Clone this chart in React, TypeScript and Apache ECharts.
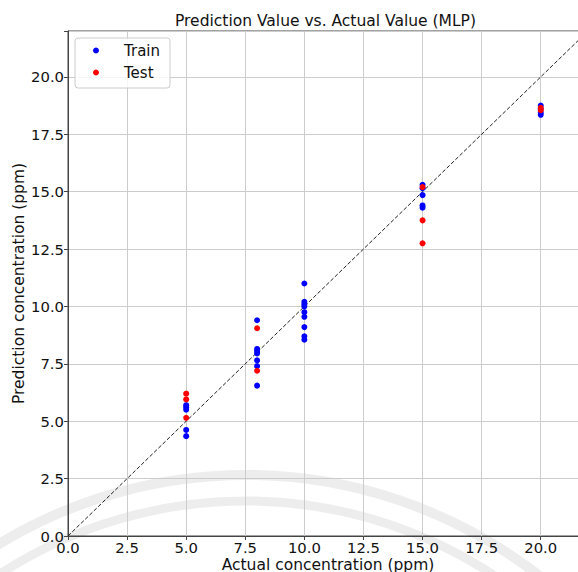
import React, { useEffect, useRef } from "react";
import * as echarts from "echarts";

const trainX = [5, 5, 5, 5, 5, 8, 8, 8, 8, 8, 8, 8, 10, 10, 10, 10, 10, 10, 10, 10, 10, 15, 15, 15, 15, 15, 20, 20, 20, 20];
const trainY = [5.7, 5.6, 5.5, 4.62, 4.35, 9.4, 8.15, 8.05, 7.95, 7.65, 7.4, 6.55, 11.0, 10.2, 10.1, 10.0, 9.75, 9.55, 9.1, 8.7, 8.55, 15.3, 15.15, 14.85, 14.4, 14.3, 18.75, 18.6, 18.45, 18.35];
const testX = [5, 5, 5, 8, 8, 15, 15, 15, 20, 20];
const testY = [6.2, 5.95, 5.15, 9.05, 7.2, 15.2, 13.75, 12.75, 18.65, 18.55];
const refLine = [0, 22];
const tickStep = 2.5;
const axisMax = 22;

const FONT = "DejaVu Sans";

export default function App() {
  const ref = useRef<HTMLDivElement>(null);
  useEffect(() => {
    if (!ref.current) return;
    const chart = echarts.init(ref.current, null, { renderer: "svg" });
    const fmt = (v: number) => {
      const k = v / tickStep;
      return Math.abs(k - Math.round(k)) < 1e-9 ? v.toFixed(1) : "";
    };
    const axisCommon = {
      type: "value",
      min: 0,
      max: axisMax,
      interval: tickStep,
      nameLocation: "middle",
      nameMoveOverlap: false,
      nameTextStyle: { fontFamily: FONT, fontSize: 15.5, color: "#111", lineHeight: 15 },
      axisLine: { show: true, onZero: false, lineStyle: { color: "#444", width: 1 } },
      axisTick: { show: true, length: 4, lineStyle: { color: "#444" } },
      axisLabel: { fontFamily: FONT, fontSize: 14.8, color: "#111", margin: 4, lineHeight: 14, formatter: fmt },
      splitLine: { show: true, lineStyle: { color: "#cccccc", width: 1 } },
    };
    chart.setOption({
      animation: false,
      backgroundColor: "#fff",
      title: {
        text: "Prediction Value vs. Actual Value (MLP)",
        left: 175,
        top: 13,
        padding: 0,
        textStyle: { fontFamily: FONT, fontSize: 15.5, fontWeight: "normal", color: "#111" },
      },
      grid: {
        left: 68,
        right: -10,
        top: 31,
        bottom: 36,
        outerBoundsMode: "none",
        containLabel: false,
        show: true,
        borderColor: "#444",
        borderWidth: 1,
      },
      legend: {
        orient: "vertical",
        left: 75,
        top: 38,
        padding: [4, 10, 7, 18],
        itemGap: 5,
        itemWidth: 6,
        itemHeight: 6,
        borderColor: "#cccccc",
        borderWidth: 1,
        borderRadius: 3,
        backgroundColor: "rgba(255,255,255,0.8)",
        textStyle: { fontFamily: FONT, fontSize: 15, color: "#111", lineHeight: 17, padding: [0, 0, 0, 20] },
        data: [
          { name: "Train", icon: "circle" },
          { name: "Test", icon: "circle" },
        ],
      },
      xAxis: { ...axisCommon, name: "Actual concentration (ppm)", nameGap: 21 },
      yAxis: { ...axisCommon, name: "Prediction concentration (ppm)", nameGap: 42 },
      graphic: [
        {
          type: "arc",
          silent: true,
          z: 0,
          shape: { cx: 246, cy: 952, r: 477, startAngle: -2.8, endAngle: -0.3, clockwise: true },
          style: { stroke: "rgba(0,0,0,0.07)", lineWidth: 10, fill: "none" },
        },
        {
          type: "arc",
          silent: true,
          z: 0,
          shape: { cx: 246, cy: 952, r: 451, startAngle: -2.8, endAngle: -0.3, clockwise: true },
          style: { stroke: "rgba(0,0,0,0.07)", lineWidth: 9, fill: "none" },
        },
      ],
      series: [
        {
          name: "ref",
          type: "line",
          data: refLine.map((v) => [v, v]),
          symbol: "none",
          lineStyle: { color: "#222", width: 1, type: [4, 2] },
          silent: true,
          z: 1,
        },
        {
          name: "Train",
          type: "scatter",
          symbolSize: 6,
          itemStyle: { color: "#0000ff", opacity: 1 },
          data: trainX.map((x, i) => [x, trainY[i]]),
          z: 2,
        },
        {
          name: "Test",
          type: "scatter",
          symbolSize: 6,
          itemStyle: { color: "#ff0000", opacity: 1 },
          data: testX.map((x, i) => [x, testY[i]]),
          z: 3,
        },
      ],
    });
    return () => chart.dispose();
  }, []);
  return <div ref={ref} style={{ width: 578, height: 572, position: "absolute", left: 0, top: 0 }} />;
}
